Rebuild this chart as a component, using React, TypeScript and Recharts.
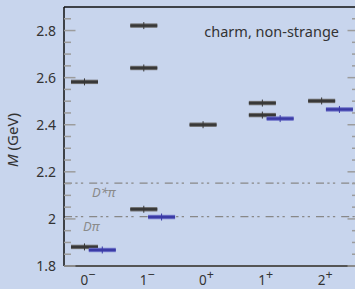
import React from "react";
import { ScatterChart, Scatter, XAxis, YAxis, ReferenceLine } from "recharts";

// J^P channels (base, superscript)
const channelBase = ["0", "1", "0", "1", "2"];
const channelParity = ["−", "−", "+", "+", "+"];

// lattice levels (dark)
const latticeChannel = [0, 0, 1, 1, 1, 2, 3, 3, 4];
const latticeMass = [1.881, 2.582, 2.041, 2.641, 2.821, 2.4, 2.441, 2.492, 2.501];

// experimental levels (blue)
const expChannel = [0, 1, 3, 4];
const expMass = [1.868, 2.008, 2.426, 2.465];

// two-meson thresholds
const thresholdNames = ["Dπ", "D*π"];
const thresholdMass = [2.01, 2.152];

const yTicks = [1.8, 1.85, 1.9, 1.95, 2.0, 2.05, 2.1, 2.15, 2.2, 2.25, 2.3, 2.35, 2.4, 2.45, 2.5, 2.55, 2.6, 2.65, 2.7, 2.75, 2.8, 2.85];
const yLabels = [1.8, 2.0, 2.2, 2.4, 2.6, 2.8];

const PLOT_L = 64;
const PLOT_R = 359;
const BLUE_SHIFT = 0.3;
const FONT = "'Noto Sans', sans-serif";

const lattice = latticeChannel.map((c, i) => ({ x: c, m: latticeMass[i] }));
const experiment = expChannel.map((c, i) => ({ x: c + BLUE_SHIFT, m: expMass[i] }));

function Level(props: any) {
  const { cx, cy, edge, core } = props;
  const w = 27;
  return (
    <g>
      <rect x={cx - w / 2} y={cy - 2.2} width={w} height={4.4} fill={edge} />
      <rect x={cx - w / 2} y={cy - 1.2} width={w} height={2.4} fill={core} />
      <line x1={cx} x2={cx} y1={cy - 3.5} y2={cy + 3.5} stroke={core} strokeWidth={1} />
    </g>
  );
}

function YTick(props: any) {
  const { y, payload } = props;
  const v = payload.value;
  const major = yLabels.some((l) => Math.abs(l - v) < 1e-6);
  const len = major ? 11.5 : 7;
  return (
    <g>
      <line x1={PLOT_L} x2={PLOT_L + len} y1={y} y2={y} stroke="#9c9c9c" strokeWidth={1.5} />
      <line x1={PLOT_R} x2={PLOT_R - len} y1={y} y2={y} stroke="#9c9c9c" strokeWidth={1.5} />
      {major && (
        <text x={56} y={y} dy={5} textAnchor="end" fontSize={14} fill="#333" fontFamily={FONT}>
          {Math.abs(v - 2) < 1e-6 ? "2" : v.toFixed(1)}
        </text>
      )}
    </g>
  );
}

function XTick(props: any) {
  const { x, payload } = props;
  const i = payload.value;
  return (
    <text x={x - 4} y={284.5} fontSize={13.5} fill="#333" fontFamily={FONT}>
      {channelBase[i]}
      <tspan dy={-6} fontSize={12.5}>{channelParity[i]}</tspan>
    </text>
  );
}

const labelX = [83, 92];

function ThresholdLabel(props: any) {
  const { viewBox, idx } = props;
  return (
    <text
      x={labelX[idx]}
      y={viewBox.y + 14}
      fontSize={13}
      fontStyle="italic"
      fill="#8a8a8a"
      fontFamily={FONT}
    >
      {thresholdNames[idx]}
    </text>
  );
}

export default function App() {
  return (
    <div
      style={{
        position: "absolute",
        left: 0,
        top: 0,
        width: 355,
        height: 289,
        overflow: "hidden",
        background: "#c8d5ed",
      }}
    >
      <ScatterChart width={360} height={289} margin={{ top: 7, right: 1, bottom: 0, left: 0 }}>
        <XAxis
          type="number"
          dataKey="x"
          domain={[-0.3457, 4.63]}
          ticks={[0, 1, 2, 3, 4]}
          allowDataOverflow
          height={23}
          axisLine={{ stroke: "#555", strokeWidth: 2 }}
          tickLine={false}
          tick={<XTick />}
          interval={0}
        />
        <YAxis
          type="number"
          dataKey="m"
          domain={[1.8, 2.9]}
          ticks={yTicks}
          allowDataOverflow
          width={64}
          axisLine={{ stroke: "#111", strokeWidth: 1.5 }}
          tickLine={false}
          tick={<YTick />}
          interval={0}
        />
        <ReferenceLine y={2.9} stroke="#111" strokeWidth={1.5} />
        {thresholdMass.map((m, i) => (
          <ReferenceLine
            key={thresholdNames[i]}
            y={m}
            stroke="#888"
            strokeWidth={1.3}
            strokeDasharray="8 3.3 2.3 3.3 2.3 6"
            label={<ThresholdLabel idx={i} />}
          />
        ))}
        <Scatter
          data={lattice}
          isAnimationActive={false}
          shape={(p: any) => <Level {...p} edge="#6e6e6e" core="#383838" />}
        />
        <Scatter
          data={experiment}
          isAnimationActive={false}
          shape={(p: any) => <Level {...p} edge="#6f74c9" core="#3b3ba6" />}
        />
        <text x={339} y={37} textAnchor="end" fontSize={14.5} fill="#333" fontFamily={FONT}>
          charm, non-strange
        </text>
        <text
          transform="translate(18,140) rotate(-90)"
          textAnchor="middle"
          fontSize={15}
          fill="#333"
          fontFamily={FONT}
        >
          <tspan fontStyle="italic">M</tspan> (GeV)
        </text>
      </ScatterChart>
    </div>
  );
}
